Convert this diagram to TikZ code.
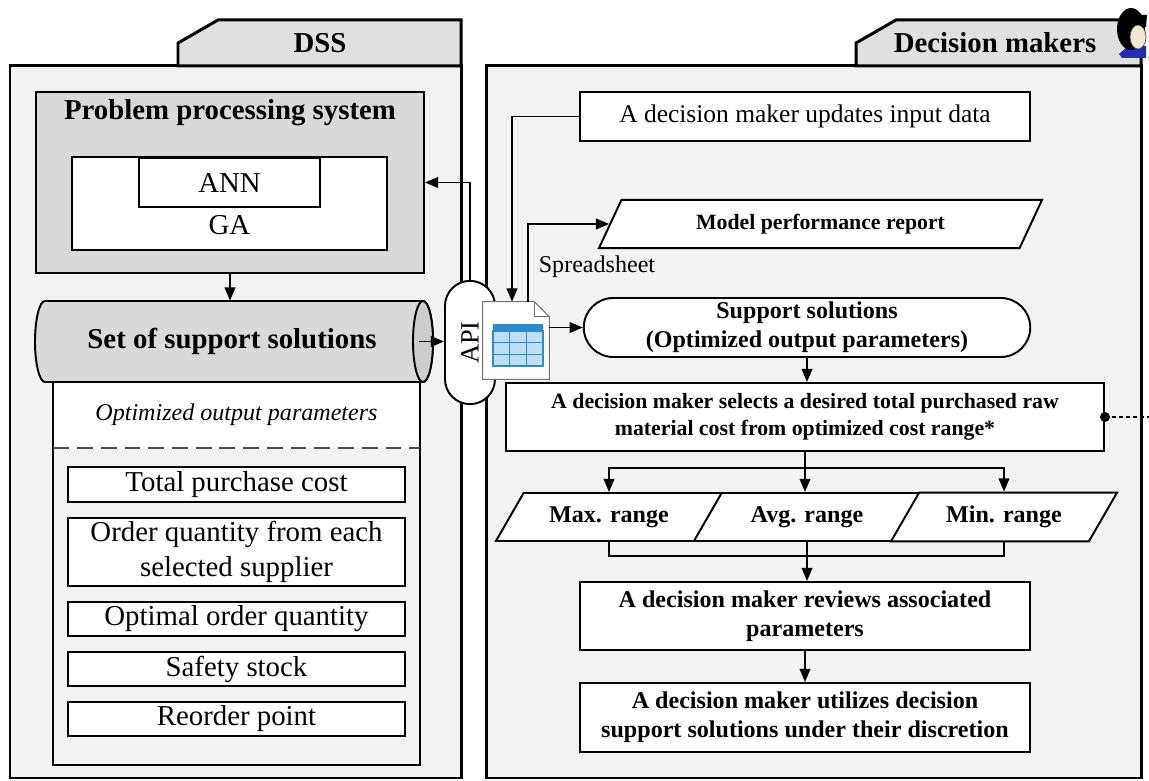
\documentclass[tikz,border=0pt]{standalone}
\usepackage{fontspec}
\setmainfont{Liberation Serif}
\usetikzlibrary{arrows.meta, positioning, shapes.geometric, shapes.misc}
\definecolor{panelfill}{HTML}{F2F2F2}
\definecolor{tabfill}{HTML}{E0E0E0}
\definecolor{ppsfill}{HTML}{D9D9D9}
\definecolor{cylend}{HTML}{CDCDCD}
\definecolor{sheetblue}{HTML}{2E8BCB}
\definecolor{cellblue}{HTML}{BEDFF3}
\definecolor{skin}{HTML}{F3E6D3}
\definecolor{collar}{HTML}{1F2FB0}
\tikzset{x = 0.2mm, y = -0.2mm,
         >= {Triangle[length = 7.5pt, width = 6pt]},
         line join = miter,
         panel/.style = {draw, line width = 1.7pt, fill = panelfill},
         paneltab/.style = {draw, line width = 1.7pt, fill = tabfill},
         big/.style = {font = \fontsize{16.4}{19.8}\selectfont},
         bigbf/.style = {font = \fontsize{16.4}{19.8}\selectfont\bfseries},
         midbf/.style = {font = \fontsize{13.7}{16.6}\selectfont\bfseries},
         smallbf/.style = {font = \fontsize{12.4}{15.3}\selectfont\bfseries},
         box/.style = {draw, line width = 1.1pt, fill = white,
                       align = center, inner sep = 1pt},
         item/.style = {box, big, minimum width = 67.4mm},
         flowbox/.style = {box, midbf, minimum width = 90mm},
         slanted/.style = {box, trapezium, trapezium stretches body,
                           trapezium left angle = 60, trapezium right angle = 120,
                           inner ysep = 7.6pt,
                           minimum width = 45.2mm, minimum height = 9.6mm},
         link/.style = {line width = 1.1pt}}

\begin{document}
\begin{tikzpicture}
  \useasboundingbox[fill = white] (0,0) rectangle (1149,781);

  % DSS side
  \draw[panel] (10,66) rectangle (461,778);
  \draw[paneltab] (178,66) -- (178,43) -- (218,20) -- (461,20) -- (461,66) -- cycle;
  \node[bigbf] (dss) at (320,43) {DSS};

  % decision maker side
  \draw[panel] (486,66) rectangle (1141,778);
  \draw[paneltab] (856,66) -- (856,43) -- (896,20) -- (1141,20) -- (1141,66) -- cycle;
  \node[bigbf] (dm) at (995,43) {Decision makers};

  % little user figure on the tab corner
  \coordinate (user) at (1133,33);
  \fill[collar] (1119,54) -- (1127,47) -- (1146,46) -- (1146,58) -- (1122,58) -- cycle;
  \fill[black] (1131,29) ellipse (14 and 21);
  \filldraw[fill = skin, draw = black!70, line width = 0.4pt] (1138,37) ellipse (8 and 12);
  \fill[black] (1127,14) -- (1147,15) -- (1146,27) -- (1133,23) -- cycle;

  % problem processing system
  \node[box, fill = ppsfill, minimum width = 77.6mm, minimum height = 36.2mm] (pps) at (230,182.5) {};
  \node[bigbf] (ppstitle) at (230,113) {Problem processing system};
  \node[box, minimum width = 63mm, minimum height = 18.6mm] (core) at (229.5,203.5) {};
  \node[box, big, minimum width = 36.2mm, minimum height = 9.8mm] (ann) at (229.5,182.5) {ANN};
  \node[big] (ga) at (229.5,225) {GA};

  % output parameters list
  \node[draw, line width = 1.1pt, fill = panelfill, minimum width = 73.4mm, minimum height = 76.6mm] (params) at (236.5,573.5) {};
  \node[fill = white, minimum width = 73.1mm, minimum height = 13.2mm,
        font = \fontsize{13.7}{16}\selectfont\itshape] (phead) at (236.5,415) {Optimized output parameters};
  \draw[line width = 1pt, draw = black!70, dash pattern = on 9pt off 4.5pt]
    (phead.south west) -- (phead.south east);
  \node[item, minimum height = 7mm]    (cost) at (236.5,484.5) {Total purchase cost};
  \node[item, minimum height = 13.6mm] (qty)  at (236.5,552)   {Order quantity from each\\selected supplier};
  \node[item, minimum height = 6.8mm]  (eoq)  at (236.5,619)   {Optimal order quantity};
  \node[item, minimum height = 6.8mm]  (ss)   at (236.5,669)   {Safety stock};
  \node[item, minimum height = 6.8mm]  (rop)  at (236.5,719)   {Reorder point};

  % solution store (lying cylinder)
  \filldraw[fill = ppsfill, line width = 1.1pt]
    (423,301) -- (45,301) arc[start angle = 90, end angle = 270, x radius = 2mm, y radius = 8.1mm]
    -- (423,382) arc[start angle = 270, end angle = 450, x radius = 2mm, y radius = 8.1mm];
  \filldraw[fill = cylend, line width = 1.1pt] (423,341.5) ellipse [x radius = 2mm, y radius = 8.1mm];
  \node[bigbf, minimum width = 75.6mm, minimum height = 16.2mm, inner sep = 0pt] (cyl) at (232,341.5)
    {Set of support solutions};

  % API and spreadsheet
  \node[rounded rectangle, draw, line width = 1.1pt, fill = white, rotate = 90,
        minimum width = 27mm, minimum height = 10mm,
        font = \fontsize{15}{18}\selectfont] (api) at (470,342.5) {API};
  \node[minimum width = 13.2mm, minimum height = 15.4mm, inner sep = 0pt] (sheet) at (516,340.5) {};
  \filldraw[fill = white, draw = black!55, line width = 0.6pt]
    (sheet.north west) -- ([xshift = -3mm]sheet.north east) -- ([yshift = -3mm]sheet.north east)
    -- (sheet.south east) -- (sheet.south west) -- cycle;
  \draw[draw = black!55, line width = 0.6pt]
    ([xshift = -3mm]sheet.north east) |- ([yshift = -3mm]sheet.north east);
  \fill[cellblue] (493,331) rectangle (543,366);
  \fill[sheetblue] (493,324) rectangle (543,331);
  \draw[sheetblue, line width = 0.8pt] (493,331) rectangle (543,366);
  \foreach \gx in {509.7, 526.3}
    \draw[sheetblue, line width = 0.8pt] (\gx,331) -- (\gx,366);
  \foreach \gy in {342.7, 354.3}
    \draw[sheetblue, line width = 0.8pt] (493,\gy) -- (543,\gy);

  % decision maker flow
  \node[box, minimum width = 90mm, minimum height = 9.8mm,
        font = \fontsize{14.5}{17}\selectfont] (upd) at (805,116.5) {A decision maker updates input data};
  \node[box, smallbf, trapezium, trapezium stretches body,
        trapezium left angle = 65, trapezium right angle = 115, inner ysep = 8pt,
        minimum width = 88.6mm, minimum height = 9.6mm] (report) at (820.5,224) {Model performance report};
  \node[font = \fontsize{13.7}{16}\selectfont] (sprd) at (597,267) {Spreadsheet};
  \node[flowbox, rounded rectangle, minimum height = 11.8mm] (supp) at (807,327.5)
    {Support solutions\\(Optimized output parameters)};
  \node[box, smallbf, minimum width = 119.6mm, minimum height = 13.6mm] (select) at (805,417)
    {A decision maker selects a desired total purchased raw\\material cost from optimized cost range*};
  \node[slanted, midbf] (rmax) at (609,517)  {Max. range};
  \node[slanted, midbf] (ravg) at (807,517)  {Avg. range};
  \node[slanted, midbf] (rmin) at (1004,517) {Min. range};
  \node[flowbox, minimum height = 13.6mm] (review) at (805,616)
    {A decision maker reviews associated\\parameters};
  \node[flowbox, minimum height = 13.8mm] (use) at (805,717.5)
    {A decision maker utilizes decision\\support solutions under their discretion};

  % connectors
  \draw[link, ->] (pps.south) -- (pps.south |- cyl.north);
  \draw[link, ->] ([xshift = -0.4mm]cyl.east) -- (api.north |- cyl.east);
  \draw[link, ->] (api.east) |- (pps.east);
  \draw[link, ->] (upd.west) -| ([xshift = -0.8mm]sheet.north);
  \draw[link, ->] ([xshift = 2.4mm]sheet.north) |- (report.west);
  \draw[link, ->] (sheet.east |- supp.west) -- (supp.west);
  \draw[link, ->] (supp.south) -- (supp.south |- select.north);

  \path (select.south) ++(0,16) coordinate (split);
  \draw[link, ->] (split) -| (rmax.north);
  \draw[link, ->] (split) -| (rmin.north);
  \draw[link, ->] (select.south) -- (select.south |- ravg.north);

  \path (ravg.south) ++(0,14) coordinate (merge);
  \draw[link] (rmax.south) |- (merge) -| (rmin.south);
  \draw[link, ->] (ravg.south) -- (ravg.south |- review.north);
  \path[link, ->] (review) edge (use);

  \coordinate (rim) at (1149,417);
  \fill (select.east) circle (1mm);
  \draw[line width = 1pt, dash pattern = on 2pt off 2pt] (select.east) -- (rim);
\end{tikzpicture}
\end{document}
